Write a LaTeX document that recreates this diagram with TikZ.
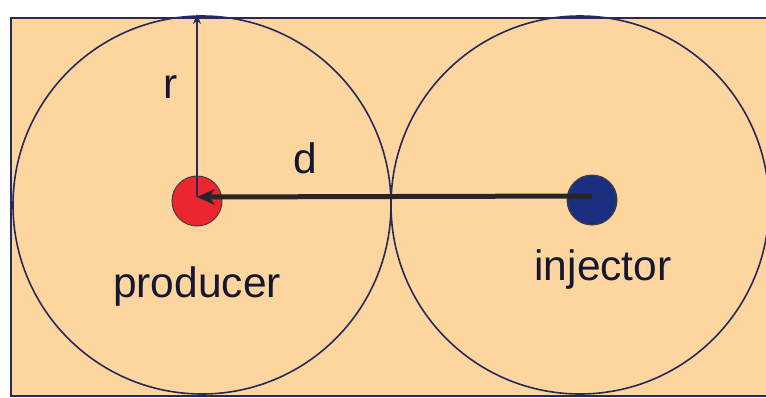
\documentclass[tikz,border=0pt]{standalone}
\usepackage{fontspec}
\setmainfont{Liberation Sans}
\usepackage{xcolor}
\usetikzlibrary{arrows.meta, positioning}

\definecolor{zonefill}{RGB}{252,214,158}
\definecolor{zoneline}{RGB}{40,40,90}
\definecolor{labelink}{RGB}{20,22,50}
\definecolor{prodred}{RGB}{236,38,48}
\definecolor{injblue}{RGB}{28,48,128}

\begin{document}
\begin{tikzpicture}[
    x=1pt, y=-1pt,
    font=\fontsize{42.5}{48}\selectfont,
    zone/.style={draw=zoneline, line width=1.6pt, circle, minimum size=378pt, inner sep=0pt},
    well/.style={circle, draw=black!75, line width=1pt, minimum size=50pt, inner sep=0pt},
    radius/.style={-{Stealth[length=10pt, width=8pt]}, draw=zoneline, line width=1.6pt},
    spacing/.style={-{Stealth[length=18pt, width=16pt]}, draw=black!85, line width=5pt},
    tag/.style={anchor=base, text=labelink}
]
\useasboundingbox (0,0) rectangle (766,397);

% 1. Field background
\draw[fill=zonefill, draw=zoneline, line width=1.5pt] (11,18) rectangle (775,396);

% 2. Drainage circles
\node[zone] (prodzone) at (202,205) {};
\node[zone] (injzone) at (580,205) {};

% 3. Wells
\node[well, fill=prodred] (prod) at (197,201) {};
\node[well, fill=injblue] (inj) at (592,200) {};
\coordinate (rtop) at (197,14);

% 4. Radius and spacing
\draw[radius] ([yshift=4pt]prod.center) -- (rtop);
\draw[spacing] ([yshift=4pt]inj.center) -- ([yshift=4pt]prod.center);

% 5. Labels
\node[tag] (rlabel) at (171,98) {r};
\node[tag] (dlabel) at (305,173) {d};
\node[tag] (prodlabel) at (197,297) {producer};
\node[tag] (injlabel) at (603,280) {injector};

\end{tikzpicture}
\end{document}
